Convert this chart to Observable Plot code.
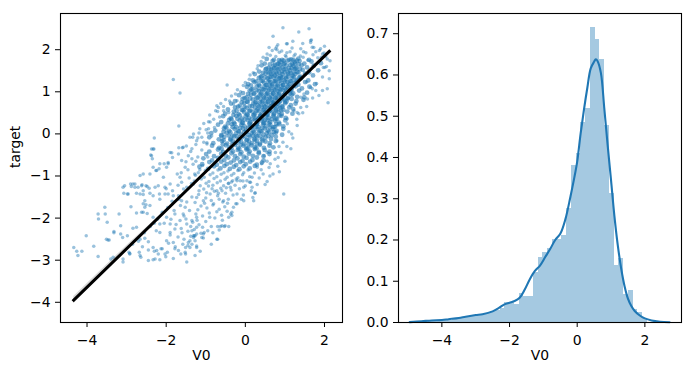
<!DOCTYPE html>
<html><head><meta charset="utf-8">
<script src="https://cdn.jsdelivr.net/npm/d3@7"></script>
<script src="https://cdn.jsdelivr.net/npm/@observablehq/plot@0.6"></script>
<style>
html,body{margin:0;padding:0;background:#fff;}
#wrap{position:relative;width:693px;height:374px;overflow:hidden;}
#left{position:absolute;left:0;top:0;}
#right{position:absolute;left:350px;top:0;}
</style></head><body><div id="wrap"><div id="left"></div><div id="right"></div></div>
<script>
// ---------- data: left panel (V0 vs target) ----------
const xTicksLeft = [-4, -2, 0, 2];
const yTicksLeft = [-4, -3, -2, -1, 0, 1, 2];
const regV0 = [-4.335, 2.121];
const regTarget = [-3.95, 1.96];
const ciV0 = [-4.335, -3, -2, -1, 0, 1, 2.121];
const ciLow = [-4.035, -2.775, -1.875, -0.965, 0.075, 0.965, 1.925];
const ciHigh = [-3.865, -2.655, -1.795, -0.915, 0.105, 1.005, 1.995];

const cloudCore = [
[0.92,1.97],[1.18,2.04],[1.47,1.95],[1.73,2.05],[1.87,1.98],[1.05,1.93],
[0.63,1.87],[0.86,1.94],[1.01,1.86],[1.13,1.95],[1.26,1.89],[1.39,1.85],[1.53,1.93],[1.71,1.88],[1.99,1.92],
[0.54,1.78],[0.77,1.84],[0.93,1.76],[1.03,1.83],[1.16,1.77],[1.23,1.85],[1.34,1.79],[1.46,1.82],[1.61,1.76],[1.83,1.81],[2.03,1.84],
[0.49,1.67],[0.69,1.73],[0.81,1.66],[0.89,1.72],[0.99,1.68],[1.07,1.74],[1.18,1.66],[1.25,1.71],[1.37,1.73],[1.49,1.67],[1.67,1.72],[1.91,1.68],
[0.41,1.63],[0.59,1.57],[0.71,1.62],[0.78,1.56],[0.88,1.64],[0.94,1.58],[1.04,1.63],[1.1,1.56],[1.21,1.62],[1.29,1.57],[1.42,1.63],[1.56,1.58],[1.73,1.62],
[0.35,1.48],[0.51,1.53],[0.61,1.46],[0.67,1.52],[0.77,1.47],[0.83,1.54],[0.92,1.48],[0.98,1.53],[1.07,1.46],[1.13,1.51],[1.24,1.54],[1.31,1.47],[1.45,1.52],[1.61,1.46],[1.84,1.51],
[0.24,1.42],[0.41,1.37],[0.51,1.43],[0.61,1.36],[0.66,1.42],[0.75,1.38],[0.8,1.44],[0.89,1.37],[0.94,1.42],[1.03,1.36],[1.09,1.43],[1.19,1.38],[1.26,1.42],[1.39,1.36],[1.51,1.43],[1.71,1.39],
[0.19,1.27],[0.34,1.33],[0.44,1.26],[0.56,1.32],[0.61,1.28],[0.71,1.34],[0.76,1.26],[0.85,1.31],[0.89,1.33],[0.98,1.27],[1.03,1.32],[1.13,1.26],[1.19,1.33],[1.31,1.28],[1.41,1.32],[1.59,1.27],
[0.07,1.18],[0.23,1.23],[0.34,1.17],[0.47,1.22],[0.54,1.16],[0.63,1.23],[0.68,1.18],[0.77,1.24],[0.82,1.17],[0.91,1.22],[0.96,1.16],[1.06,1.23],[1.12,1.18],[1.23,1.22],[1.34,1.17],[1.51,1.23],[1.76,1.18],
[0.04,1.12],[0.19,1.07],[0.29,1.13],[0.41,1.06],[0.48,1.12],[0.58,1.08],[0.63,1.14],[0.72,1.07],[0.77,1.12],[0.86,1.06],[0.91,1.13],[1.0,1.08],[1.06,1.12],[1.17,1.07],[1.27,1.13],[1.43,1.08],[1.62,1.12],
[-0.06,0.97],[0.11,1.03],[0.21,0.96],[0.34,1.02],[0.41,0.98],[0.51,1.04],[0.57,0.97],[0.66,1.03],[0.71,0.96],[0.81,1.02],[0.86,0.98],[0.95,1.04],[1.01,0.97],[1.12,1.02],[1.21,0.96],[1.36,1.03],[1.56,0.98],
[-0.16,0.92],[0.03,0.87],[0.14,0.93],[0.28,0.86],[0.36,0.92],[0.46,0.88],[0.52,0.94],[0.61,0.87],[0.66,0.92],[0.75,0.86],[0.81,0.93],[0.91,0.88],[0.97,0.92],[1.08,0.86],[1.17,0.93],[1.31,0.88],[1.49,0.87],
[-0.26,0.78],[-0.07,0.83],[0.04,0.77],[0.19,0.82],[0.27,0.76],[0.38,0.83],[0.44,0.78],[0.53,0.84],[0.58,0.77],[0.67,0.82],[0.72,0.76],[0.81,0.83],[0.87,0.78],[0.97,0.82],[1.04,0.77],[1.17,0.83],[1.29,0.78],[1.47,0.81],
[-0.36,0.72],[-0.14,0.67],[-0.03,0.73],[0.11,0.66],[0.2,0.72],[0.31,0.68],[0.37,0.74],[0.47,0.67],[0.52,0.72],[0.61,0.66],[0.66,0.73],[0.76,0.68],[0.82,0.72],[0.93,0.66],[1.01,0.73],[1.15,0.68],[1.27,0.72],
[-0.44,0.58],[-0.26,0.63],[-0.09,0.57],[0.03,0.62],[0.12,0.56],[0.24,0.63],[0.31,0.58],[0.41,0.64],[0.47,0.57],[0.56,0.62],[0.62,0.56],[0.71,0.63],[0.77,0.58],[0.88,0.62],[0.96,0.57],[1.11,0.63],[1.21,0.59],
[-0.51,0.48],[-0.29,0.53],[-0.17,0.47],[-0.03,0.52],[0.06,0.46],[0.18,0.53],[0.25,0.48],[0.35,0.54],[0.41,0.47],[0.51,0.52],[0.57,0.46],[0.67,0.53],[0.73,0.48],[0.84,0.52],[0.92,0.47],[1.06,0.53],[1.19,0.48],
[-0.56,0.42],[-0.37,0.37],[-0.23,0.43],[-0.09,0.36],[0.01,0.42],[0.09,0.38],[0.2,0.44],[0.27,0.37],[0.37,0.42],[0.43,0.36],[0.53,0.43],[0.59,0.38],[0.7,0.42],[0.77,0.36],[0.91,0.43],[1.02,0.38],
[-0.61,0.28],[-0.41,0.33],[-0.29,0.27],[-0.14,0.32],[-0.06,0.26],[0.06,0.33],[0.13,0.28],[0.24,0.34],[0.3,0.27],[0.4,0.32],[0.46,0.26],[0.56,0.33],[0.63,0.28],[0.75,0.32],[0.85,0.27],[1.01,0.32],
[-0.69,0.22],[-0.51,0.17],[-0.34,0.23],[-0.23,0.16],[-0.1,0.22],[-0.02,0.18],[0.1,0.24],[0.17,0.17],[0.28,0.22],[0.34,0.16],[0.45,0.23],[0.52,0.18],[0.63,0.22],[0.71,0.16],[0.86,0.23],[0.96,0.18],
[-0.76,0.08],[-0.54,0.13],[-0.41,0.07],[-0.27,0.12],[-0.18,0.06],[-0.06,0.13],[0.02,0.08],[0.13,0.14],[0.2,0.07],[0.31,0.12],[0.38,0.06],[0.49,0.13],[0.57,0.08],[0.69,0.12],[0.79,0.07],[0.96,0.12],
[-0.86,0.02],[-0.61,-0.03],[-0.47,0.03],[-0.32,-0.04],[-0.23,0.02],[-0.11,-0.02],[-0.03,0.04],[0.09,-0.03],[0.16,0.02],[0.27,-0.04],[0.34,0.03],[0.46,-0.02],[0.54,0.02],[0.67,-0.03],[0.77,0.03],[0.93,-0.02],
[-0.91,-0.08],[-0.67,-0.13],[-0.53,-0.07],[-0.37,-0.12],[-0.28,-0.06],[-0.16,-0.13],[-0.08,-0.08],[0.04,-0.14],[0.11,-0.07],[0.22,-0.12],[0.3,-0.06],[0.42,-0.13],[0.51,-0.08],[0.65,-0.12],[0.77,-0.07],
[-0.81,-0.22],[-0.59,-0.17],[-0.46,-0.23],[-0.32,-0.16],[-0.23,-0.22],[-0.11,-0.18],[-0.03,-0.24],[0.09,-0.17],[0.17,-0.22],[0.29,-0.16],[0.37,-0.23],[0.51,-0.18],[0.62,-0.22],[0.77,-0.17],
[-0.84,-0.28],[-0.66,-0.33],[-0.49,-0.27],[-0.39,-0.32],[-0.26,-0.26],[-0.18,-0.33],[-0.05,-0.28],[0.03,-0.34],[0.15,-0.27],[0.24,-0.32],[0.37,-0.26],[0.47,-0.33],[0.61,-0.28],[0.71,-0.32],
[-0.91,-0.42],[-0.69,-0.37],[-0.56,-0.43],[-0.41,-0.36],[-0.31,-0.42],[-0.19,-0.38],[-0.1,-0.44],[0.03,-0.37],[0.11,-0.42],[0.24,-0.36],[0.34,-0.43],[0.49,-0.38],[0.61,-0.42],
[-0.99,-0.48],[-0.79,-0.53],[-0.61,-0.47],[-0.49,-0.52],[-0.35,-0.46],[-0.26,-0.53],[-0.13,-0.48],[-0.04,-0.54],[0.09,-0.47],[0.19,-0.52],[0.34,-0.46],[0.46,-0.53],[0.61,-0.48],
[-1.06,-0.58],[-0.84,-0.63],[-0.69,-0.57],[-0.53,-0.62],[-0.43,-0.56],[-0.29,-0.63],[-0.2,-0.58],[-0.07,-0.64],[0.03,-0.57],[0.18,-0.62],[0.29,-0.56],[0.46,-0.63],
[-1.09,-0.72],[-0.91,-0.67],[-0.72,-0.73],[-0.61,-0.66],[-0.47,-0.72],[-0.37,-0.68],[-0.23,-0.74],[-0.13,-0.67],[0.01,-0.72],[0.12,-0.66],[0.29,-0.73],[0.42,-0.68],
[-1.16,-0.78],[-0.94,-0.83],[-0.79,-0.77],[-0.63,-0.82],[-0.53,-0.76],[-0.39,-0.83],[-0.29,-0.78],[-0.15,-0.84],[-0.04,-0.77],[0.11,-0.82],[0.24,-0.76],
[-1.19,-0.92],[-1.01,-0.87],[-0.82,-0.93],[-0.69,-0.86],[-0.54,-0.92],[-0.44,-0.88],[-0.29,-0.94],[-0.19,-0.87],[-0.04,-0.92],[0.07,-0.86],[0.23,-0.93],
[-1.26,-0.98],[-1.04,-1.03],[-0.89,-0.97],[-0.72,-1.02],[-0.61,-0.96],[-0.46,-1.03],[-0.35,-0.98],[-0.19,-1.04],[-0.07,-0.97],[0.11,-1.02],
[-1.29,-1.12],[-1.11,-1.07],[-0.92,-1.13],[-0.79,-1.06],[-0.63,-1.12],[-0.51,-1.08],[-0.35,-1.14],[-0.23,-1.07],[-0.06,-1.12],
[-1.36,-1.18],[-1.14,-1.23],[-0.99,-1.17],[-0.82,-1.22],[-0.71,-1.16],[-0.55,-1.23],[-0.43,-1.18],[-0.26,-1.22]
];

const cloudCenter = [
[0.72,1.76],[0.85,1.75],[0.97,1.74],[1.11,1.76],[1.21,1.75],[1.3,1.74],
[0.62,1.65],[0.75,1.64],[0.84,1.66],[0.97,1.65],[1.14,1.64],[1.26,1.66],[1.35,1.65],
[0.53,1.55],[0.65,1.54],[0.73,1.56],[0.87,1.55],[1.02,1.54],[1.17,1.56],[1.27,1.55],[1.38,1.54],
[0.45,1.45],[0.57,1.46],[0.71,1.44],[0.86,1.45],[0.99,1.46],[1.15,1.44],[1.22,1.45],[1.34,1.46],
[0.39,1.35],[0.5,1.34],[0.65,1.36],[0.8,1.35],[0.93,1.34],[1.08,1.36],[1.23,1.35],[1.36,1.34],
[0.28,1.25],[0.4,1.26],[0.58,1.24],[0.73,1.25],[0.87,1.26],[1.01,1.24],[1.16,1.25],[1.28,1.26],
[0.14,1.15],[0.36,1.14],[0.52,1.16],[0.67,1.15],[0.81,1.14],[0.95,1.16],[1.09,1.15],[1.22,1.14],
[0.15,1.05],[0.29,1.04],[0.46,1.06],[0.61,1.05],[0.75,1.04],[0.9,1.06],[1.04,1.05],[1.16,1.04],
[0.07,0.95],[0.23,0.96],[0.4,0.94],[0.55,0.95],[0.7,0.96],[0.85,0.94],[1.0,0.95],[1.13,0.96],
[-0.02,0.85],[0.12,0.84],[0.31,0.86],[0.48,0.85],[0.63,0.84],[0.77,0.86],[0.93,0.85],[1.07,0.84],
[-0.09,0.75],[0.06,0.76],[0.25,0.74],[0.42,0.75],[0.56,0.76],[0.7,0.74],[0.86,0.75],[1.0,0.76],
[-0.18,0.65],[-0.02,0.64],[0.17,0.66],[0.35,0.65],[0.5,0.64],[0.66,0.66],[0.82,0.65],[0.94,0.64],
[-0.22,0.55],[-0.06,0.56],[0.1,0.54],[0.28,0.55],[0.45,0.56],[0.6,0.54],[0.78,0.55],[0.9,0.56],
[-0.3,0.45],[-0.14,0.44],[0.04,0.46],[0.22,0.45],[0.38,0.44],[0.55,0.46],[0.72,0.45],[0.86,0.44],
[-0.35,0.35],[-0.2,0.36],[-0.02,0.34],[0.17,0.35],[0.34,0.36],[0.5,0.34],[0.67,0.35],[0.8,0.36],
[-0.44,0.25],[-0.27,0.24],[-0.08,0.26],[0.12,0.25],[0.3,0.24],[0.48,0.26],[0.6,0.25],[0.78,0.24],
[-0.48,0.15],[-0.32,0.16],[-0.13,0.14],[0.07,0.15],[0.25,0.16],[0.43,0.14],[0.62,0.15],[0.74,0.16],
[-0.55,0.05],[-0.38,0.04],[-0.16,0.06],[0.04,0.05],[0.22,0.04],[0.41,0.06],[0.6,0.05],[0.72,0.04],
[-0.6,-0.05],[-0.42,-0.04],[-0.21,-0.06],[-0.01,-0.05],[0.19,-0.04],[0.38,-0.06],[0.58,-0.05],
[-0.55,-0.15],[-0.38,-0.14],[-0.17,-0.16],[0.03,-0.15],[0.24,-0.14],[0.44,-0.16],
[-0.57,-0.25],[-0.33,-0.24],[-0.12,-0.26],[0.08,-0.25],[0.29,-0.24],
[-0.6,-0.35],[-0.35,-0.34],[-0.15,-0.36],[0.07,-0.35],[0.28,-0.34]
];

const cloudMid = [
[-1.05,-1.31],[-0.93,-1.24],[-0.78,-1.36],[-0.62,-1.29],[-0.5,-1.41],[-0.36,-1.33],[-1.18,-1.44],[-1.0,-1.52],[-0.86,-1.58],[-0.7,-1.47],[-0.57,-1.62],[-0.43,-1.55],
[-1.27,-1.63],[-1.12,-1.71],[-0.97,-1.76],[-0.82,-1.69],[-0.66,-1.79],[-0.52,-1.73],[-1.41,-1.82],[-1.25,-1.9],[-1.08,-1.95],[-0.91,-1.88],[-0.77,-2.0],[-0.6,-1.93],
[-1.5,-2.02],[-1.33,-2.1],[-1.17,-2.16],[-1.0,-2.08],[-0.86,-2.2],[-1.62,-2.25],[-1.45,-2.31],[-1.29,-2.27],[-1.12,-2.36],[-0.95,-2.3],[-1.7,-2.45],[-1.55,-2.5],
[-1.38,-2.43],[-1.58,-2.62],[-1.77,-2.68],[-1.94,-2.6],
[-1.56,-1.31],[-1.7,-1.22],[-1.84,-1.35],[-2.0,-1.3],[-1.48,-1.62],[-1.64,-1.7],[-1.8,-1.82],[-1.96,-1.75],[-2.1,-1.86],[-1.88,-2.03],[-2.05,-2.12],[-2.22,-2.03],
[-2.25,-2.3],[-2.4,-2.2],[-2.55,-2.35],[-2.7,-2.55],[-2.85,-2.62],[-2.98,-2.42],[-2.6,-2.68],
[-1.45,-0.85],[-1.62,-0.92],[-1.32,-0.72],[-1.5,-0.66],[-1.2,-0.55],[-1.38,-0.42],[-1.1,-0.38],[-1.25,-0.25],[-1.05,-0.2],[-0.95,0.02],[-1.15,0.12],[-0.8,0.35],
[-0.9,0.45],[-0.62,0.72],[-0.5,0.82],[-0.35,0.9],[-0.2,1.05],[-0.05,1.15],[0.1,1.3],[0.2,1.45],[0.3,1.55],[0.4,1.72],[0.55,1.9],[0.68,1.98],
[1.05,-0.3],[0.9,-0.45],[0.75,-0.6],[1.2,-0.1],[1.1,0.05],[0.6,-0.8],[0.45,-0.95],[0.35,-1.05],[0.5,-1.2],[0.62,-1.0],[0.86,-0.9],[1.3,0.35],
[1.45,0.5],[1.55,0.65],[1.7,0.85],[1.8,1.2],[1.95,1.35],[2.05,1.6],[1.58,1.75],[1.78,1.95],[2.0,2.08],[1.2,2.2],[1.45,2.15],
[-1.42,-1.05],[-1.28,-0.95],[-1.17,-1.35],[-0.98,-1.4],[-0.84,-1.3],[-0.66,-1.55],[-0.48,-1.28],[-0.31,-1.45],[-0.15,-1.3],[-0.05,-1.45],
[-1.35,-1.5],[-1.2,-1.8],[-1.03,-1.65],[-0.9,-1.98],[-0.72,-1.85],[-0.58,-2.05],[-0.45,-1.65],[-0.37,-1.9],[-1.55,-1.95],[-1.38,-2.2],
[-1.22,-2.05],[-1.08,-2.22],[-0.82,-2.35],[-0.66,-2.28],[-1.6,-2.35],[-1.45,-2.65],[-1.9,-2.4],[-1.75,-2.15],[-1.68,-1.55],[-1.85,-1.6],
[-1.25,-0.65],[-1.08,-0.75],[-0.95,-0.55],[-1.15,-0.85],[-1.35,-0.35],[-1.2,-0.1],[-1.05,0.25],[-0.85,-0.05],[-0.78,0.15],[-0.65,0.4],
[-0.75,0.55],[-0.55,0.65],[-0.4,0.78],[-0.25,0.95],[-0.12,1.0],[0.0,1.22],[0.12,1.4],[0.32,1.62],[0.45,1.82],[0.6,2.05],
[1.15,-0.35],[0.95,-0.2],[1.0,-0.65],[0.85,-0.3],[0.7,-0.95],[0.55,-0.65],[0.4,-0.85],[0.3,-1.2],[0.15,-1.35],[-0.1,-1.55]
];

const cloudSparse = [
[-1.82,1.29],[-1.65,0.97],[-1.68,0.19],[-2.30,-0.10],[-2.33,-0.36],[-2.39,-0.50],[-2.35,-0.59],[-1.86,-0.45],[-1.68,-0.33],[-1.59,-0.33],[-1.49,-0.29],
[-1.33,-0.08],[-1.17,0.02],[-1.10,-0.08],[-0.99,0.10],[-0.93,0.29],[-0.97,-0.21],
[0.70,2.32],[0.95,2.52],[1.35,2.42],[1.61,2.50],[0.79,2.07],[0.80,2.0],[1.04,2.14],[1.67,2.23],[1.65,2.17],[1.92,1.82],[1.97,1.58],[2.14,1.74],[2.12,1.50],
[1.95,1.03],[2.09,0.74],[1.69,1.07],[1.55,1.23],[1.40,0.87],[1.23,0.55],[1.35,0.48],[1.31,0.20],[1.06,0.24],[1.17,0.0],[0.80,-0.16],
[0.97,-1.43],[0.24,-1.41],[0,-1.23],[0.11,-1.15],[-0.13,-1.11],[-0.42,-1.17],[-0.32,-1.11],[-0.21,-1.11],[-0.68,-1.41],[-0.59,-1.35],[-0.24,-1.66],
[-0.46,-1.84],[-0.42,-1.98],[-0.70,-2.20],[-0.63,-2.2],[-0.53,-2.2],[-0.42,-2.2],[-0.70,-2.50],[-1.10,-2.46],[-1.06,-2.38],[-1.31,-2.42],[-1.27,-2.54],
[-1.23,-2.70],[-1.51,-2.70],[-1.51,-2.85],[-1.82,-2.96],[-2.01,-2.92],[-2.10,-2.73],[-2.20,-2.85],[-2.28,-2.97],[-2.33,-2.70],[-2.45,-2.76],[-2.66,-2.89],
[-2.68,-2.81],[-2.92,-2.85],[-2.94,-2.81],[-3.09,-2.97],[-3.09,-3.04],[-3.34,-2.93],[-3.40,-2.97],[-3.51,-2.50],[-3.72,-1.90],[-3.71,-2.02],[-3.55,-1.74],
[-3.54,-1.90],[-3.49,-2.10],[-3.32,-2.32],[-3.19,-1.90],[-3.72,-2.91],[-3.83,-2.67],[-4.02,-2.42],[-4.335,-2.70],[-4.26,-2.79],[-4.13,-2.79],[-4.23,-2.89],
[-3.47,-2.52],[-3.09,-1.27],[-3.07,-1.41],[-2.98,-1.43],[-2.84,-1.19],[-2.79,-1.27],[-2.75,-1.41],[-2.61,-1.21],[-2.54,-1.74],[-2.51,-1.68],[-2.58,-0.95],
[-2.41,-0.95],[-2.33,-0.79],[-2.37,-0.52],[-2.31,-0.36],[-2.24,-0.87],[-2.16,-0.71],[-2.05,-0.71],[-1.95,-0.71],[-1.90,-0.44],[-1.84,-0.56],
[-1.72,-0.95],[-1.65,-1.03],[-1.61,-1.15],[-3.44,-2.52],[-3.32,-2.35],[-3.15,-2.18],[-3.10,-2.46],[-3.15,-2.38],[-2.89,-1.73],[-2.92,-2.84],[-2.84,-2.24],
[-2.75,-2.22],[-2.90,-1.19],[-2.62,-1.23],[-2.51,-1.23],[-2.43,-1.29],[-2.41,-1.41],[-2.58,-1.44],[-2.58,-1.86],[-2.48,-1.89],[-2.41,-1.70],[-2.66,-2.50],
[-2.54,-2.48],[-2.45,-2.56],[-2.64,-2.93],[-2.45,-3.01],[-2.33,-2.99],[-2.16,-2.99],[-2.30,-2.79],[-2.24,-2.77],[-2.13,-2.73],[-2.03,-2.85],[-1.97,-2.81],
[-1.99,-2.54],[-1.90,-2.34],[-1.82,-2.58],[-1.78,-2.73],[-1.69,-2.77],[-1.63,-2.85],[-1.52,-2.81],[-1.48,-3.04],[-1.35,-2.62],[-1.27,-2.42],[-1.14,-2.79],
[-1.27,-2.89],[-3.05,-1.23],[-2.88,-1.25],[-2.48,-1.25],[-2.28,-1.27],[-2.17,-1.43],[-2.03,-1.27],[-2.16,-1.55],[-1.95,-1.43],[-1.82,-1.47],[-1.69,-1.47],
[-1.61,-1.59],[-2.66,-1.43],[-2.58,-1.66],[-2.96,-1.43],[-2.75,-1.88],[-2.62,-1.86],[-2.33,-1.98],[-2.30,-2.12],[-2.16,-2.14],[-2.16,-2.34],[-1.99,-1.98],
[-1.90,-2.14],[-1.78,-2.26],[-1.78,-1.90],[-1.65,-2.06],[-1.57,-1.90],[-1.52,-1.74],[-1.48,-2.14],[-1.35,-2.30],[-1.31,-2.46],[-1.23,-2.38],[-1.44,-2.58],
[-1.35,-2.06],[-1.23,-1.98],[-2.37,-0.36],[-2.26,-0.87],[-2.18,-0.83],[-2.66,-0.99],[-2.79,-1.19],[-2.71,-1.27],[-2.58,-1.35],[-2.54,-1.59],[-2.33,-1.47],
[-2.20,-1.23],[-2.07,-1.03],[-2.03,-1.43],[-1.95,-0.68],[-1.99,-0.79],[-1.69,-0.48],[-1.57,-0.32],[-1.61,-0.63],[-1.52,-0.79],[-1.44,-0.52],[-1.35,-0.59],
[-1.40,-0.08],[-1.31,0],[-1.23,-0.16],[-0.97,-0.24],[-0.93,0.12],[-0.89,0.28],[-0.68,0.63],[-0.70,0.53],[-0.55,0.55],[-0.42,0.51],[-0.30,0.71],[-0.21,0.79],
[-0.46,1.16],[-0.72,0.67],[-1.90,-1.19],[-1.48,-1.27],[-1.31,-1.19],[-1.23,-1.51],[-1.06,-1.59],[-0.89,-1.43],[-0.72,-1.35],[-0.80,-1.66],[-0.55,-1.59],
[-0.38,-1.27],[-0.21,-1.43],[-0.30,-1.74],[-0.04,-1.59],[0.04,-1.11],[0.17,-1.27],[0.30,-0.79],[0.21,-1.59],[0.19,-1.51],[0.25,-1.40],[0.55,-1.13],
[0.82,-0.77],[0.76,-0.44],[0.83,-0.56],[0.63,-0.71],[0.41,-0.71],[0.47,-0.52],[0.55,-0.44],[0.17,-1.03],[0.13,-1.15],[-0.04,-1.27],[-0.21,-1.66],
[-0.34,-1.86],[-0.34,-1.94],[-0.51,-2.18],[-0.59,-2.18],[-0.72,-2.50],[-0.86,-2.62],[-1.04,-2.34],[-1.06,-2.47],[-1.23,-2.22],[-1.29,-2.42],[-1.40,-2.54],
[-1.40,-2.70],[-1.23,-2.66],[1.40,2.02],[1.65,2.22],[1.69,2.06],[1.90,2.02],[1.95,1.90],[2.07,1.78],[2.01,1.58],[2.121,1.31],[2.07,1.07],[1.86,0.91],
[1.65,1.11],[1.78,1.03],[1.48,0.95],[1.57,0.83],[1.40,0.63],[1.31,0.51],[0.80,0.20],[1.06,0.36],[0.82,2.12],[0.76,2.02],[1.06,2.14]
];

// ---------- data: right panel (distribution of V0) ----------
const xTicksRight = [-4, -2, 0, 2];
const yTicksRight = [0, 0.1, 0.2, 0.3, 0.4, 0.5, 0.6, 0.7];
const histStart = -4.381;
const histBinWidth = 0.14035;
const histDensity = [0.003,0.003,0.005,0.005,0.005,0.007,0.01,0.012,0.015,0.015,0.017,0.02,0.022,0.026,0.03,0.035,
  0.049,0.049,0.043,0.071,0.062,0.062,0.121,0.158,0.17,0.18,0.2,0.2,0.21,0.276,0.38,0.41,0.486,0.519,
  0.716,0.686,0.638,0.477,0.312,0.138,0.155,0.067,0.077,0.032,0.025,0.01];
const kdeV0 = [-4.95,-4.6,-4.3,-4.0,-3.8,-3.5,-3.3,-3.0,-2.8,-2.5,-2.3,-2.15,-2.0,-1.85,-1.7,-1.55,-1.4,-1.25,-1.1,-0.95,-0.8,-0.65,-0.5,-0.35,-0.2,-0.1,0.0,0.1,0.2,0.3,0.4,0.5,0.55,0.6,0.7,0.8,0.9,1.0,1.1,1.2,1.3,1.4,1.5,1.6,1.7,1.85,2.0,2.2,2.45,2.73];
const kdeDensity = [0.001,0.003,0.005,0.006,0.008,0.011,0.014,0.018,0.02,0.027,0.036,0.044,0.048,0.052,0.06,0.08,0.105,0.125,0.138,0.158,0.178,0.2,0.215,0.25,0.305,0.345,0.39,0.457,0.516,0.569,0.616,0.632,0.638,0.634,0.605,0.52,0.43,0.345,0.258,0.187,0.131,0.088,0.058,0.04,0.028,0.017,0.01,0.005,0.002,0.0005];

// ---------- build tables ----------
const toPts = arr => arr.map(([v0, target]) => ({v0, target}));
const allCore = [...toPts(cloudCore), ...toPts(cloudCenter)];
// the thick, overlapping middle of the cloud is drawn with larger dots; its thinner fringes with small ones
const inThickPart = p => p.target > -0.85 && p.target < 1.8;
const densePoints = allCore.filter(inThickPart);
const loosePoints = [...allCore.filter(p => !inThickPart(p)), ...toPts(cloudMid), ...toPts(cloudSparse)];
const regLine = regV0.map((v, i) => ({v0: v, target: regTarget[i]}));
const ciBand = ciV0.map((v, i) => ({v0: v, lo: ciLow[i], hi: ciHigh[i]}));
const bins = histDensity.map((d, i) => ({x1: histStart + i * histBinWidth, x2: histStart + (i + 1) * histBinWidth, d}));
const kde = kdeV0.map((v, i) => ({v0: v, d: kdeDensity[i]}));

const FONT = "'DejaVu Sans', sans-serif";
const baseStyle = {fontFamily: FONT, fontSize: "13.9px", color: "#000", background: "#fff", overflow: "visible"};
const C0 = "#1f77b4";

const leftPlot = Plot.plot({
  width: 350, height: 374,
  marginLeft: 60, marginRight: 8, marginTop: 13, marginBottom: 52,
  style: baseStyle,
  x: {domain: [-4.67, 2.455]},
  y: {domain: [-4.48, 2.86]},
  marks: [
    Plot.dot(loosePoints, {x: "v0", y: "target", r: 1.75, fill: C0, fillOpacity: 0.45, stroke: "none"}),
    Plot.dot(densePoints, {x: "v0", y: "target", r: 2.4, fill: C0, fillOpacity: 0.58, stroke: "none"}),
    Plot.areaY(ciBand, {x: "v0", y1: "lo", y2: "hi", fill: "#000", fillOpacity: 0.15}),
    Plot.line(regLine, {x: "v0", y: "target", stroke: "#000", strokeWidth: 3, strokeLinecap: "square"}),
    Plot.frame({stroke: "#000", strokeWidth: 1.1}),
    Plot.axisX({ticks: xTicksLeft, tickFormat: d3.format("d"), tickSize: 5, tickPadding: 7.5, label: null}),
    Plot.axisY({ticks: yTicksLeft, tickFormat: d3.format("d"), tickSize: 5, tickPadding: 5, label: null}),
    Plot.text(["V0"], {frameAnchor: "bottom", dy: 37, fontSize: 13.9}),
    Plot.text(["target"], {frameAnchor: "left", dx: -45, rotate: -90, fontSize: 13.9})
  ]
});
document.getElementById("left").appendChild(leftPlot);

const rightPlot = Plot.plot({
  width: 343, height: 374,
  marginLeft: 48, marginRight: 12, marginTop: 13, marginBottom: 52,
  style: baseStyle,
  x: {domain: [-5.282, 3.083]},
  y: {domain: [0, 0.749]},
  marks: [
    Plot.rectY(bins, {x1: "x1", x2: "x2", y1: 0, y2: "d", fill: "#a5c9e1", inset: 0, shapeRendering: "crispEdges"}),
    Plot.line(kde, {x: "v0", y: "d", stroke: C0, strokeWidth: 2.1, curve: "catmull-rom"}),
    Plot.frame({stroke: "#000", strokeWidth: 1.1}),
    Plot.axisX({ticks: xTicksRight, tickFormat: d3.format("d"), tickSize: 5, tickPadding: 7.5, label: null}),
    Plot.axisY({ticks: yTicksRight, tickFormat: d3.format(".1f"), tickSize: 5, tickPadding: 5, label: null}),
    Plot.text(["V0"], {frameAnchor: "bottom", dy: 37, fontSize: 13.9})
  ]
});
document.getElementById("right").appendChild(rightPlot);
</script></body></html>
